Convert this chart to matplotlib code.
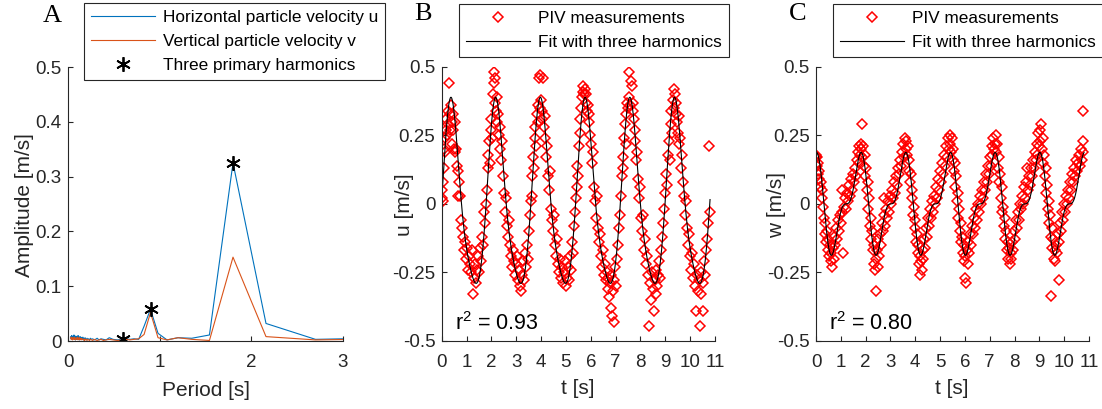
import matplotlib
matplotlib.use('Agg')
import matplotlib.pyplot as plt
import numpy as np
from matplotlib.lines import Line2D

# ---------------- data ----------------
# Panel A: amplitude spectrum
periods = [0.03, 0.035, 0.04, 0.045, 0.05, 0.055, 0.06, 0.065, 0.07, 0.075, 0.08, 0.085, 0.09,
           0.095, 0.10, 0.105, 0.11, 0.115, 0.12, 0.125, 0.13, 0.135, 0.14, 0.145, 0.15,
           0.156, 0.162, 0.168, 0.174, 0.18, 0.186, 0.193, 0.2, 0.208, 0.216, 0.225, 0.235,
           0.245, 0.257, 0.27, 0.284, 0.3, 0.318, 0.338, 0.36, 0.386, 0.415, 0.45, 0.491, 0.54,
           0.6, 0.635, 0.675, 0.72, 0.771, 0.83, 0.9, 0.982, 1.08, 1.2, 1.35, 1.543, 1.8, 2.16,
           2.7, 3.6]
amp_u = [0.008, 0.004, 0.010, 0.006, 0.003, 0.009, 0.005, 0.011, 0.004, 0.007, 0.002, 0.009, 0.006,
         0.003, 0.008, 0.005, 0.010, 0.004, 0.006, 0.002, 0.008, 0.005, 0.007, 0.003, 0.006,
         0.004, 0.007, 0.002, 0.005, 0.003, 0.006, 0.004, 0.002, 0.005, 0.003, 0.004, 0.002,
         0.005, 0.003, 0.004, 0.002, 0.003, 0.005, 0.002, 0.004, 0.003, 0.002, 0.006, 0.003, 0.002,
         0.003, 0.004, 0.003, 0.004, 0.003, 0.027, 0.058, 0.014, 0.002, 0.006, 0.005, 0.011, 0.325,
         0.032, 0.003, 0.006]
amp_v = [0.006, 0.003, 0.007, 0.004, 0.002, 0.006, 0.005, 0.003, 0.007, 0.004, 0.002, 0.005, 0.006,
         0.003, 0.004, 0.007, 0.002, 0.005, 0.003, 0.006, 0.002, 0.004, 0.003, 0.005, 0.002,
         0.003, 0.004, 0.002, 0.003, 0.001, 0.004, 0.002, 0.003, 0.001, 0.003, 0.002, 0.001,
         0.003, 0.002, 0.001, 0.003, 0.002, 0.001, 0.002, 0.003, 0.001, 0.002, 0.003, 0.002, 0.001,
         0.002, 0.003, 0.002, 0.003, 0.004, 0.012, 0.052, 0.006, 0.002, 0.006, 0.003, 0.001, 0.153,
         0.008, 0.002, 0.004]
harm_periods = [0.6, 0.9, 1.8]
harm_amps = [0.003, 0.058, 0.325]

# Panel B: horizontal velocity measurements
t_u = [0.00, 0.02, 0.04, 0.06, 0.08, 0.10, 0.12, 0.15, 0.17, 0.19, 0.22, 0.24, 0.27, 0.30, 0.32, 0.35,
       0.37, 0.40, 0.42, 0.45, 0.47, 0.50, 0.53, 0.55, 0.58, 0.61, 0.64, 0.67, 0.70, 0.74, 0.78, 0.82,
       0.86, 0.90, 0.94, 0.98, 1.02, 1.06, 1.10, 1.14, 1.18, 1.22, 1.26, 1.30, 1.34, 1.38, 1.42, 1.46,
       1.50, 1.54, 1.58, 1.62, 1.66, 1.70, 1.74, 1.78,
       1.82, 1.85, 1.88, 1.91, 1.94, 1.97, 2.00, 2.03, 2.06, 2.09, 2.11, 2.13, 2.15, 2.18, 2.21, 2.24,
       2.27, 2.30, 2.33, 2.36, 2.40, 2.44, 2.48, 2.52, 2.56, 2.60, 2.64, 2.68, 2.72, 2.76, 2.80, 2.84,
       2.88, 2.92, 2.96, 3.00, 3.04, 3.08, 3.12, 3.16, 3.19, 3.22, 3.26, 3.30, 3.34, 3.38, 3.42, 3.46,
       3.50, 3.54, 3.58,
       3.62, 3.65, 3.68, 3.71, 3.74, 3.77, 3.80, 3.83, 3.86, 3.89, 3.92, 3.94, 3.96, 3.99, 4.02, 4.05,
       4.08, 4.11, 4.14, 4.17, 4.20, 4.24, 4.28, 4.32, 4.36, 4.40, 4.44, 4.48, 4.52, 4.56, 4.60, 4.64,
       4.68, 4.72, 4.76, 4.80, 4.84, 4.88, 4.92, 4.96, 5.00, 5.04, 5.08, 5.12, 5.16, 5.20, 5.24, 5.28,
       5.32, 5.36, 5.40,
       5.43, 5.46, 5.49, 5.52, 5.55, 5.58, 5.61, 5.64, 5.67, 5.70, 5.73, 5.76, 5.79, 5.82, 5.85, 5.88,
       5.91, 5.94, 5.97, 6.00, 6.04, 6.08, 6.12, 6.16, 6.20, 6.24, 6.28, 6.32, 6.36, 6.40, 6.44, 6.48,
       6.52, 6.56, 6.60, 6.64, 6.68, 6.71, 6.74, 6.77, 6.80, 6.83, 6.86, 6.89, 6.92, 6.95, 6.98, 7.02,
       7.06, 7.10, 7.14, 7.18,
       7.22, 7.25, 7.28, 7.31, 7.34, 7.37, 7.40, 7.43, 7.46, 7.49, 7.52, 7.55, 7.58, 7.62, 7.65, 7.68,
       7.71, 7.74, 7.77, 7.80, 7.84, 7.88, 7.92, 7.96, 8.00, 8.04, 8.08, 8.12, 8.16, 8.20, 8.24, 8.28,
       8.32, 8.36, 8.40, 8.44, 8.48, 8.52, 8.55, 8.58, 8.61, 8.64, 8.68, 8.72, 8.76, 8.80, 8.84, 8.88,
       8.92, 8.96,
       9.00, 9.04, 9.08, 9.12, 9.15, 9.18, 9.21, 9.24, 9.27, 9.30, 9.33, 9.36, 9.39, 9.42, 9.45, 9.48,
       9.51, 9.54, 9.57, 9.60, 9.64, 9.68, 9.72, 9.76, 9.80, 9.84, 9.88, 9.92, 9.96, 10.00, 10.04, 10.08,
       10.12, 10.16, 10.20, 10.23, 10.26, 10.30, 10.34, 10.39, 10.42, 10.45, 10.50, 10.53, 10.57, 10.61,
       10.65, 10.69, 10.73, 10.77, 10.79]
u_meas = [0.02, 0.05, 0.01, 0.08, 0.13, 0.20, 0.24, 0.19, 0.27, 0.31, 0.25, 0.34, 0.29, 0.44, 0.33, 0.27,
          0.36, 0.30, 0.22, 0.33, 0.27, 0.20, 0.30, 0.19, 0.20, 0.14, 0.12, 0.03, 0.08, 0.03, -0.06, -0.09,
          -0.12, -0.17, -0.14, -0.20, -0.16, -0.24, -0.19, -0.22, -0.25, -0.17, -0.33, -0.27, -0.22, -0.29,
          -0.24, -0.19, -0.25, -0.16, -0.21, -0.12, -0.15, -0.03, -0.07, 0.00,
          0.05, 0.13, 0.18, 0.23, 0.15, 0.27, 0.31, 0.24, 0.40, 0.44, 0.48, 0.46, 0.37, 0.34, 0.39, 0.30,
          0.33, 0.25, 0.28, 0.20, 0.16, 0.23, 0.10, 0.04, -0.03, 0.02, -0.08, -0.12, -0.06, -0.15, -0.19,
          -0.23, -0.17, -0.21, -0.26, -0.22, -0.19, -0.28, -0.24, -0.30, -0.32, -0.26, -0.21, -0.28, -0.18,
          -0.23, -0.15, -0.20, -0.10, -0.04, 0.01,
          0.03, 0.10, 0.17, 0.13, 0.24, 0.28, 0.21, 0.33, 0.36, 0.30, 0.46, 0.47, 0.35, 0.38, 0.31, 0.34,
          0.46, 0.28, 0.32, 0.24, 0.17, 0.21, 0.10, 0.05, 0.12, -0.02, -0.06, -0.10, -0.04, -0.15, -0.19,
          -0.13, -0.22, -0.25, -0.20, -0.27, -0.23, -0.29, -0.25, -0.21, -0.30, -0.27, -0.23, -0.28, -0.19,
          -0.24, -0.14, -0.18, -0.08, -0.03, 0.02,
          0.06, 0.14, 0.10, 0.21, 0.26, 0.31, 0.35, 0.39, 0.41, 0.43, 0.40, 0.42, 0.37, 0.40, 0.34, 0.36,
          0.30, 0.33, 0.25, 0.22, 0.15, 0.19, 0.06, 0.01, -0.05, 0.03, -0.09, -0.14, -0.11, -0.19, -0.23,
          -0.17, -0.26, -0.22, -0.28, -0.25, -0.31, -0.27, -0.34, -0.29, -0.38, -0.26, -0.41, -0.32, -0.43,
          -0.28, -0.23, -0.30, -0.20, -0.15, -0.09, -0.04,
          0.03, 0.10, 0.17, 0.13, 0.24, 0.29, 0.22, 0.33, 0.37, 0.35, 0.48, 0.39, 0.36, 0.45, 0.43, 0.37,
          0.34, 0.31, 0.23, 0.27, 0.16, 0.19, 0.09, 0.02, 0.06, -0.05, -0.10, -0.04, -0.17, -0.13, -0.22,
          -0.19, -0.26, -0.445, -0.29, -0.35, -0.25, -0.31, -0.39, -0.28, -0.33, -0.24, -0.30, -0.26, -0.21,
          -0.27, -0.17, -0.12, -0.07, -0.02,
          0.04, 0.11, 0.07, 0.18, 0.23, 0.16, 0.29, 0.34, 0.26, 0.38, 0.42, 0.35, 0.40, 0.33, 0.37, 0.30,
          0.26, 0.32, 0.22, 0.24, 0.13, 0.18, 0.08, 0.03, -0.04, 0.01, -0.09, -0.15, -0.11, -0.19, -0.24,
          -0.18, -0.27, -0.22, -0.30, -0.39, -0.26, -0.32, -0.28, -0.445, -0.33, -0.25, -0.39, -0.29, -0.21,
          -0.26, -0.17, -0.13, -0.07, 0.21, -0.03]

# Panel C: vertical velocity measurements
t_w = [0.00, 0.02, 0.04, 0.06, 0.08, 0.10, 0.12, 0.14, 0.17, 0.20, 0.23, 0.26, 0.29, 0.32, 0.35, 0.38,
       0.41, 0.44, 0.47, 0.50, 0.53, 0.56, 0.59, 0.62, 0.65, 0.68, 0.71, 0.74, 0.77, 0.80, 0.84, 0.88,
       0.92, 0.96, 1.00, 1.03, 1.06, 1.10, 1.13, 1.16, 1.20, 1.24, 1.28, 1.32, 1.36, 1.40, 1.44, 1.48,
       1.52, 1.56, 1.60, 1.64, 1.68, 1.72, 1.75, 1.78,
       1.81, 1.83, 1.85, 1.87, 1.90, 1.93, 1.96, 1.99, 2.02, 2.05, 2.08, 2.11, 2.14, 2.17, 2.20, 2.23,
       2.26, 2.29, 2.32, 2.35, 2.38, 2.41, 2.42, 2.45, 2.48, 2.51, 2.54, 2.58, 2.62, 2.66, 2.70, 2.73,
       2.76, 2.80, 2.84, 2.88, 2.92, 2.96, 3.00, 3.04, 3.08, 3.12, 3.16, 3.20, 3.24, 3.28, 3.32, 3.36,
       3.40, 3.44, 3.48, 3.52, 3.55, 3.58, 3.61,
       3.64, 3.67, 3.70, 3.73, 3.76, 3.79, 3.82, 3.85, 3.88, 3.91, 3.94, 3.97, 4.00, 4.03, 4.06, 4.09,
       4.12, 4.15, 4.18, 4.21, 4.24, 4.27, 4.30, 4.33, 4.36, 4.40, 4.44, 4.48, 4.52, 4.56, 4.60, 4.64,
       4.68, 4.72, 4.76, 4.80, 4.84, 4.88, 4.92, 4.96, 5.00, 5.04, 5.08, 5.12, 5.16, 5.20, 5.24, 5.28,
       5.32, 5.35, 5.38, 5.41,
       5.44, 5.47, 5.50, 5.53, 5.56, 5.59, 5.62, 5.65, 5.68, 5.71, 5.74, 5.77, 5.80, 5.83, 5.86, 5.89,
       5.92, 5.95, 5.98, 6.00, 6.02, 6.05, 6.08, 6.11, 6.14, 6.17, 6.21, 6.25, 6.29, 6.33, 6.37, 6.41,
       6.45, 6.49, 6.53, 6.57, 6.61, 6.65, 6.69, 6.73, 6.77, 6.81, 6.85, 6.89, 6.93, 6.97, 7.01, 7.05,
       7.08, 7.11, 7.14, 7.17, 7.20,
       7.24, 7.27, 7.30, 7.33, 7.36, 7.39, 7.42, 7.45, 7.48, 7.51, 7.54, 7.57, 7.60, 7.63, 7.66, 7.69,
       7.72, 7.75, 7.78, 7.81, 7.84, 7.87, 7.90, 7.93, 7.97, 8.01, 8.05, 8.09, 8.13, 8.17, 8.21, 8.25,
       8.29, 8.33, 8.37, 8.41, 8.45, 8.49, 8.53, 8.57, 8.61, 8.65, 8.69, 8.73, 8.77, 8.81, 8.85, 8.89,
       8.92, 8.95, 8.98, 9.01, 9.04,
       9.07, 9.10, 9.13, 9.16, 9.19, 9.22, 9.25, 9.28, 9.31, 9.34, 9.37, 9.40, 9.43, 9.46, 9.47, 9.49,
       9.52, 9.55, 9.58, 9.61, 9.64, 9.67, 9.70, 9.74, 9.78, 9.80, 9.82, 9.86, 9.90, 9.94, 9.98, 10.02,
       10.06, 10.10, 10.14, 10.18, 10.22, 10.26, 10.30, 10.34, 10.38, 10.42, 10.46, 10.50, 10.54, 10.58,
       10.62, 10.66, 10.70, 10.74, 10.77, 10.77]
w_meas = [0.17, 0.18, 0.14, 0.17, 0.11, 0.15, 0.09, 0.12, 0.06, 0.08, 0.02, 0.05, -0.01, -0.05, -0.11,
          -0.07, -0.14, -0.10, -0.17, -0.13, -0.19, -0.15, -0.21, -0.18, -0.23, -0.16, -0.20, -0.12, -0.15,
          -0.09, -0.13, -0.06, -0.10, -0.04, -0.07, 0.05, -0.03, -0.18, -0.01, 0.02, -0.02, 0.04, 0.01,
          0.07, 0.03, 0.09, 0.05, 0.11, 0.08, 0.13, 0.10, 0.16, 0.19, 0.15, 0.21, 0.18,
          0.22, 0.20, 0.29, 0.17, 0.21, 0.14, 0.18, 0.10, 0.13, 0.05, 0.08, -0.02, 0.02, -0.08, -0.05,
          -0.13, -0.10, -0.17, -0.22, -0.15, -0.24, -0.20, -0.32, -0.17, -0.23, -0.13, -0.19, -0.11, -0.15,
          -0.07, -0.10, 0.02, -0.04, -0.08, -0.02, -0.05, 0.01, -0.03, 0.03, 0.00, 0.05, 0.02, 0.08, 0.04,
          0.10, 0.07, 0.13, 0.11, 0.16, 0.14, 0.19, 0.22, 0.17, 0.24, 0.20,
          0.23, 0.18, 0.21, 0.12, 0.16, 0.08, 0.11, 0.02, 0.05, -0.04, -0.01, -0.09, -0.06, -0.14, -0.11,
          -0.18, -0.15, -0.22, -0.19, -0.26, -0.21, -0.24, -0.17, -0.20, -0.13, -0.16, -0.09, -0.12, -0.05,
          -0.08, -0.02, -0.05, 0.01, -0.03, 0.03, 0.00, 0.06, 0.02, 0.09, 0.05, 0.12, 0.08, 0.15, 0.11,
          0.18, 0.14, 0.21, 0.17, 0.24, 0.20, 0.25, 0.22,
          0.19, 0.24, 0.16, 0.20, 0.12, 0.15, 0.06, 0.10, 0.01, 0.04, -0.05, -0.02, -0.10, -0.07, -0.14,
          -0.12, -0.18, -0.15, -0.21, -0.27, -0.19, -0.29, -0.17, -0.22, -0.14, -0.18, -0.11, -0.15, -0.08,
          -0.11, -0.05, -0.09, -0.02, -0.06, 0.00, -0.03, 0.03, 0.00, 0.05, 0.02, 0.08, 0.05, 0.11, 0.08,
          0.14, 0.11, 0.17, 0.14, 0.21, 0.18, 0.24, 0.20, 0.22,
          0.25, 0.19, 0.22, 0.13, 0.17, 0.08, 0.11, 0.02, 0.06, -0.03, -0.01, -0.08, -0.05, -0.13, -0.10,
          -0.17, -0.14, -0.20, -0.16, -0.22, -0.18, -0.20, -0.14, -0.17, -0.10, -0.13, -0.06, -0.09, -0.03,
          -0.06, 0.00, -0.02, 0.03, 0.00, 0.06, 0.02, 0.08, 0.13, 0.05, 0.10, 0.07, 0.13, 0.10, 0.16, 0.13,
          0.19, 0.16, 0.22, 0.18, 0.26, 0.21, 0.27, 0.23,
          0.29, 0.20, 0.24, 0.15, 0.18, 0.10, 0.13, 0.04, 0.07, -0.02, 0.01, -0.07, -0.04, -0.12, -0.335,
          -0.09, -0.16, -0.13, -0.20, -0.17, -0.21, -0.15, -0.18, -0.11, -0.14, -0.28, -0.07, -0.10, -0.03,
          -0.06, 0.00, -0.03, 0.03, 0.00, 0.05, 0.02, 0.08, 0.05, 0.11, 0.08, 0.13, 0.10, 0.16, 0.12, 0.15,
          0.18, 0.14, 0.20, 0.16, 0.19, 0.34, 0.23]

# Three-harmonic fit coefficients (harmonics of the 1.8 s wave)
fit_base_period = 1.8
fit_t_end = 10.8
u_fit_amp = [0.33, 0.06, 0.004]
u_fit_phase = [0.0, 0.5, 0.0]
u_fit_t0 = 0.40
w_fit_amp = [0.145, 0.072, 0.0]
w_fit_t0 = 0.32
r2_u = 0.93
r2_w = 0.80

# ---------------- style ----------------
plt.rcParams['font.family'] = ['Liberation Sans', 'DejaVu Sans']
plt.rcParams['axes.unicode_minus'] = False
plt.rcParams['mathtext.fontset'] = 'custom'
plt.rcParams['mathtext.rm'] = 'Liberation Sans'
plt.rcParams['mathtext.it'] = 'Liberation Sans'

W, H = 1102, 409
fig = plt.figure(figsize=(W / 100, H / 100), dpi=100)
AX = '#262626'
BLUE = '#0072BD'
ORANGE = '#D95319'
TICK_FS = 13.5
LAB_FS = 15
LEG_FS = 12.4
MS = 4.6
MEW = 1.1


def ax_at(l, t, r, b):
    return fig.add_axes([l / W, 1 - b / H, (r - l) / W, (b - t) / H])


def style(ax):
    for s in ['top', 'right']:
        ax.spines[s].set_visible(False)
    for s in ['left', 'bottom']:
        ax.spines[s].set_color(AX)
        ax.spines[s].set_linewidth(0.8)
    ax.tick_params(axis='both', direction='in', length=3.5, width=0.8, color=AX,
                   labelcolor=AX, labelsize=TICK_FS)
    ax.tick_params(axis='x', pad=9.5)
    ax.tick_params(axis='y', pad=4.5)


def legend(ax, handles, labels, x, y):
    leg = ax.legend(handles, labels, loc='upper left', bbox_to_anchor=(x / W, 1 - y / H),
                    bbox_transform=fig.transFigure, borderaxespad=0, fontsize=LEG_FS,
                    fancybox=False, framealpha=1, edgecolor=AX, borderpad=0.42,
                    handlelength=3.7, handletextpad=0.45, labelspacing=0.5, numpoints=1)
    leg.get_frame().set_linewidth(0.8)
    for txt in leg.get_texts():
        txt.set_color('#000000')
    return leg


# ---------------- Panel A ----------------
axA = ax_at(68, 67, 343, 341)
style(axA)
axA.plot(periods, amp_u, color=BLUE, lw=0.8)
axA.plot(periods, amp_v, color=ORANGE, lw=0.8)
star = (6, 2, 0)
axA.plot(harm_periods, harm_amps, linestyle='none', marker=star, ms=10.5, mew=1.3, color='black')
axA.set_xlim(0, 3)
axA.set_ylim(0, 0.5)
axA.set_xticks([0, 1, 2, 3])
axA.set_yticks([0, 0.1, 0.2, 0.3, 0.4, 0.5])
axA.set_yticklabels(['0', '0.1', '0.2', '0.3', '0.4', '0.5'])
hA = [Line2D([], [], color=BLUE, lw=0.8), Line2D([], [], color=ORANGE, lw=0.8),
      Line2D([], [], linestyle='none', marker=star, ms=10.5, mew=1.3, color='black')]
legend(axA, hA, ['Horizontal particle velocity u', 'Vertical particle velocity v',
                 'Three primary harmonics'], 84, 3)

# ---------------- fits ----------------
t_fit = np.linspace(0, fit_t_end, 800)
om = 2 * np.pi / fit_base_period
u_fit = sum(a * np.cos((n + 1) * om * (t_fit - u_fit_t0) + p)
            for n, (a, p) in enumerate(zip(u_fit_amp, u_fit_phase)))
s = om * (w_fit_t0 - t_fit)
w_fit = sum(a * np.sin((n + 1) * s) for n, a in enumerate(w_fit_amp))


def velocity_panel(ax, t, v, tf, vf):
    style(ax)
    ax.plot(t, v, linestyle='none', marker='D', ms=MS, mew=MEW, mfc='none', mec='#FF0000')
    ax.plot(tf, vf, color='black', lw=0.8)
    ax.set_xlim(0, 11)
    ax.set_ylim(-0.5, 0.5)
    ax.set_xticks(range(0, 12))
    ax.set_yticks([-0.5, -0.25, 0, 0.25, 0.5])
    ax.set_yticklabels(['-0.5', '-0.25', '0', '0.25', '0.5'])
    h = [Line2D([], [], linestyle='none', marker='D', ms=MS, mew=MEW, mfc='none', mec='#FF0000'),
         Line2D([], [], color='black', lw=0.8)]
    return h


axB = ax_at(441.7, 67, 715, 340.7)
hB = velocity_panel(axB, t_u, u_meas, t_fit, u_fit)
legend(axB, hB, ['PIV measurements', 'Fit with three harmonics'], 459, 4)

axC = ax_at(816, 67, 1089, 340.7)
hC = velocity_panel(axC, t_w, w_meas, t_fit, w_fit)
legend(axC, hC, ['PIV measurements', 'Fit with three harmonics'], 833, 4)

# ---------------- texts ----------------
def ftext(x, y, s, **kw):
    fig.text(x / W, 1 - y / H, s, **kw)

ftext(25, 205, 'Amplitude [m/s]', rotation=90, ha='center', va='center', fontsize=LAB_FS, color=AX)
ftext(405, 205, 'u [m/s]', rotation=90, ha='center', va='center', fontsize=LAB_FS, color=AX)
ftext(777, 205, 'w [m/s]', rotation=90, ha='center', va='center', fontsize=LAB_FS, color=AX)
ftext(205.5, 390, 'Period [s]', ha='center', va='center', fontsize=LAB_FS, color=AX)
ftext(578, 388, 't [s]', ha='center', va='center', fontsize=LAB_FS, color=AX)
ftext(952, 388, 't [s]', ha='center', va='center', fontsize=LAB_FS, color=AX)

ftext(455, 330, 'r$^2$ = %.2f' % r2_u, ha='left', va='baseline', fontsize=15.5, color='black')
ftext(829, 330, 'r$^2$ = %.2f' % r2_w, ha='left', va='baseline', fontsize=15.5, color='black')

serif = ['Liberation Serif', 'DejaVu Serif']
ftext(52, 16, 'A', ha='center', va='center', fontsize=19, family=serif)
ftext(423, 14, 'B', ha='center', va='center', fontsize=19, family=serif)
ftext(798, 14, 'C', ha='center', va='center', fontsize=19, family=serif)

fig.savefig('out.png', dpi=100)
